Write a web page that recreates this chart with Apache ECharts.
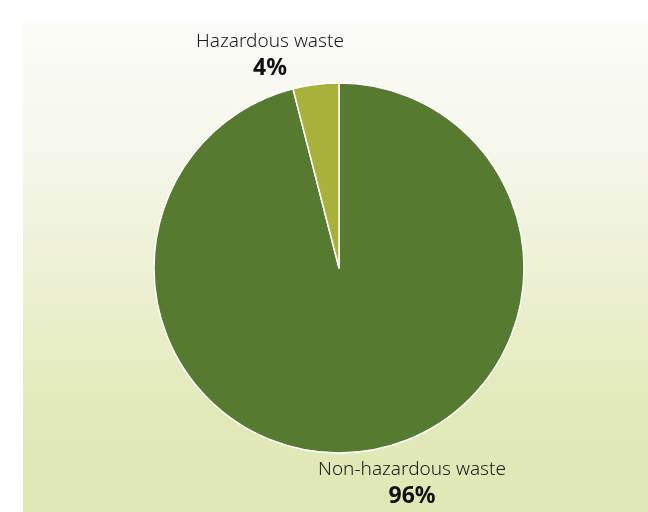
<!DOCTYPE html>
<html><head><meta charset="utf-8">
<script src="https://cdn.jsdelivr.net/npm/echarts@6/dist/echarts.min.js"></script>
<style>html,body{margin:0;padding:0;background:#fff}#c{width:648px;height:512px}</style>
</head><body><div id="c"></div>
<script>
const categories = ['Non-hazardous waste', 'Hazardous waste'];
const values = [96, 4];
const colors = ['#557a30', '#a8b23a'];
const labelSpots = [[412, 470], [270, 42]];

const chart = echarts.init(document.getElementById('c'));
chart.setOption({
  animation: false,
  graphic: [{
    type: 'rect', left: 23, top: 22, z: -10,
    shape: { width: 625, height: 490 },
    style: { fill: new echarts.graphic.LinearGradient(0, 0, 0, 1, [
      { offset: 0, color: '#fbfbf8' },
      { offset: 0.25, color: '#f6f7ec' },
      { offset: 0.8, color: '#e2e9b8' },
      { offset: 1, color: '#e0e8b6' }
    ]) }
  }],
  series: [{
    type: 'pie',
    center: [339, 268],
    radius: [0, 185],
    startAngle: 90,
    clockwise: true,
    data: categories.map((n, i) => ({ name: n, value: values[i], itemStyle: { color: colors[i] } })),
    itemStyle: { borderColor: '#ffffff', borderWidth: 1.5 },
    label: {
      show: true,
      position: 'outside',
      formatter: p => '{n|' + p.name + '}\n{v|' + p.value + '%}',
      rich: {
        n: { fontFamily: 'Noto Sans', fontSize: 19, fontWeight: 300, color: '#1a1a1a', lineHeight: 26, align: 'center' },
        v: { fontFamily: 'Noto Sans', fontSize: 23, fontWeight: 'bold', color: '#111', lineHeight: 26, align: 'center' }
      }
    },
    labelLine: { show: false },
    labelLayout: p => {
      const s = labelSpots[p.dataIndex];
      return { x: s[0], y: s[1] - 13, align: 'center', verticalAlign: 'top' };
    }
  }]
});
</script></body></html>
